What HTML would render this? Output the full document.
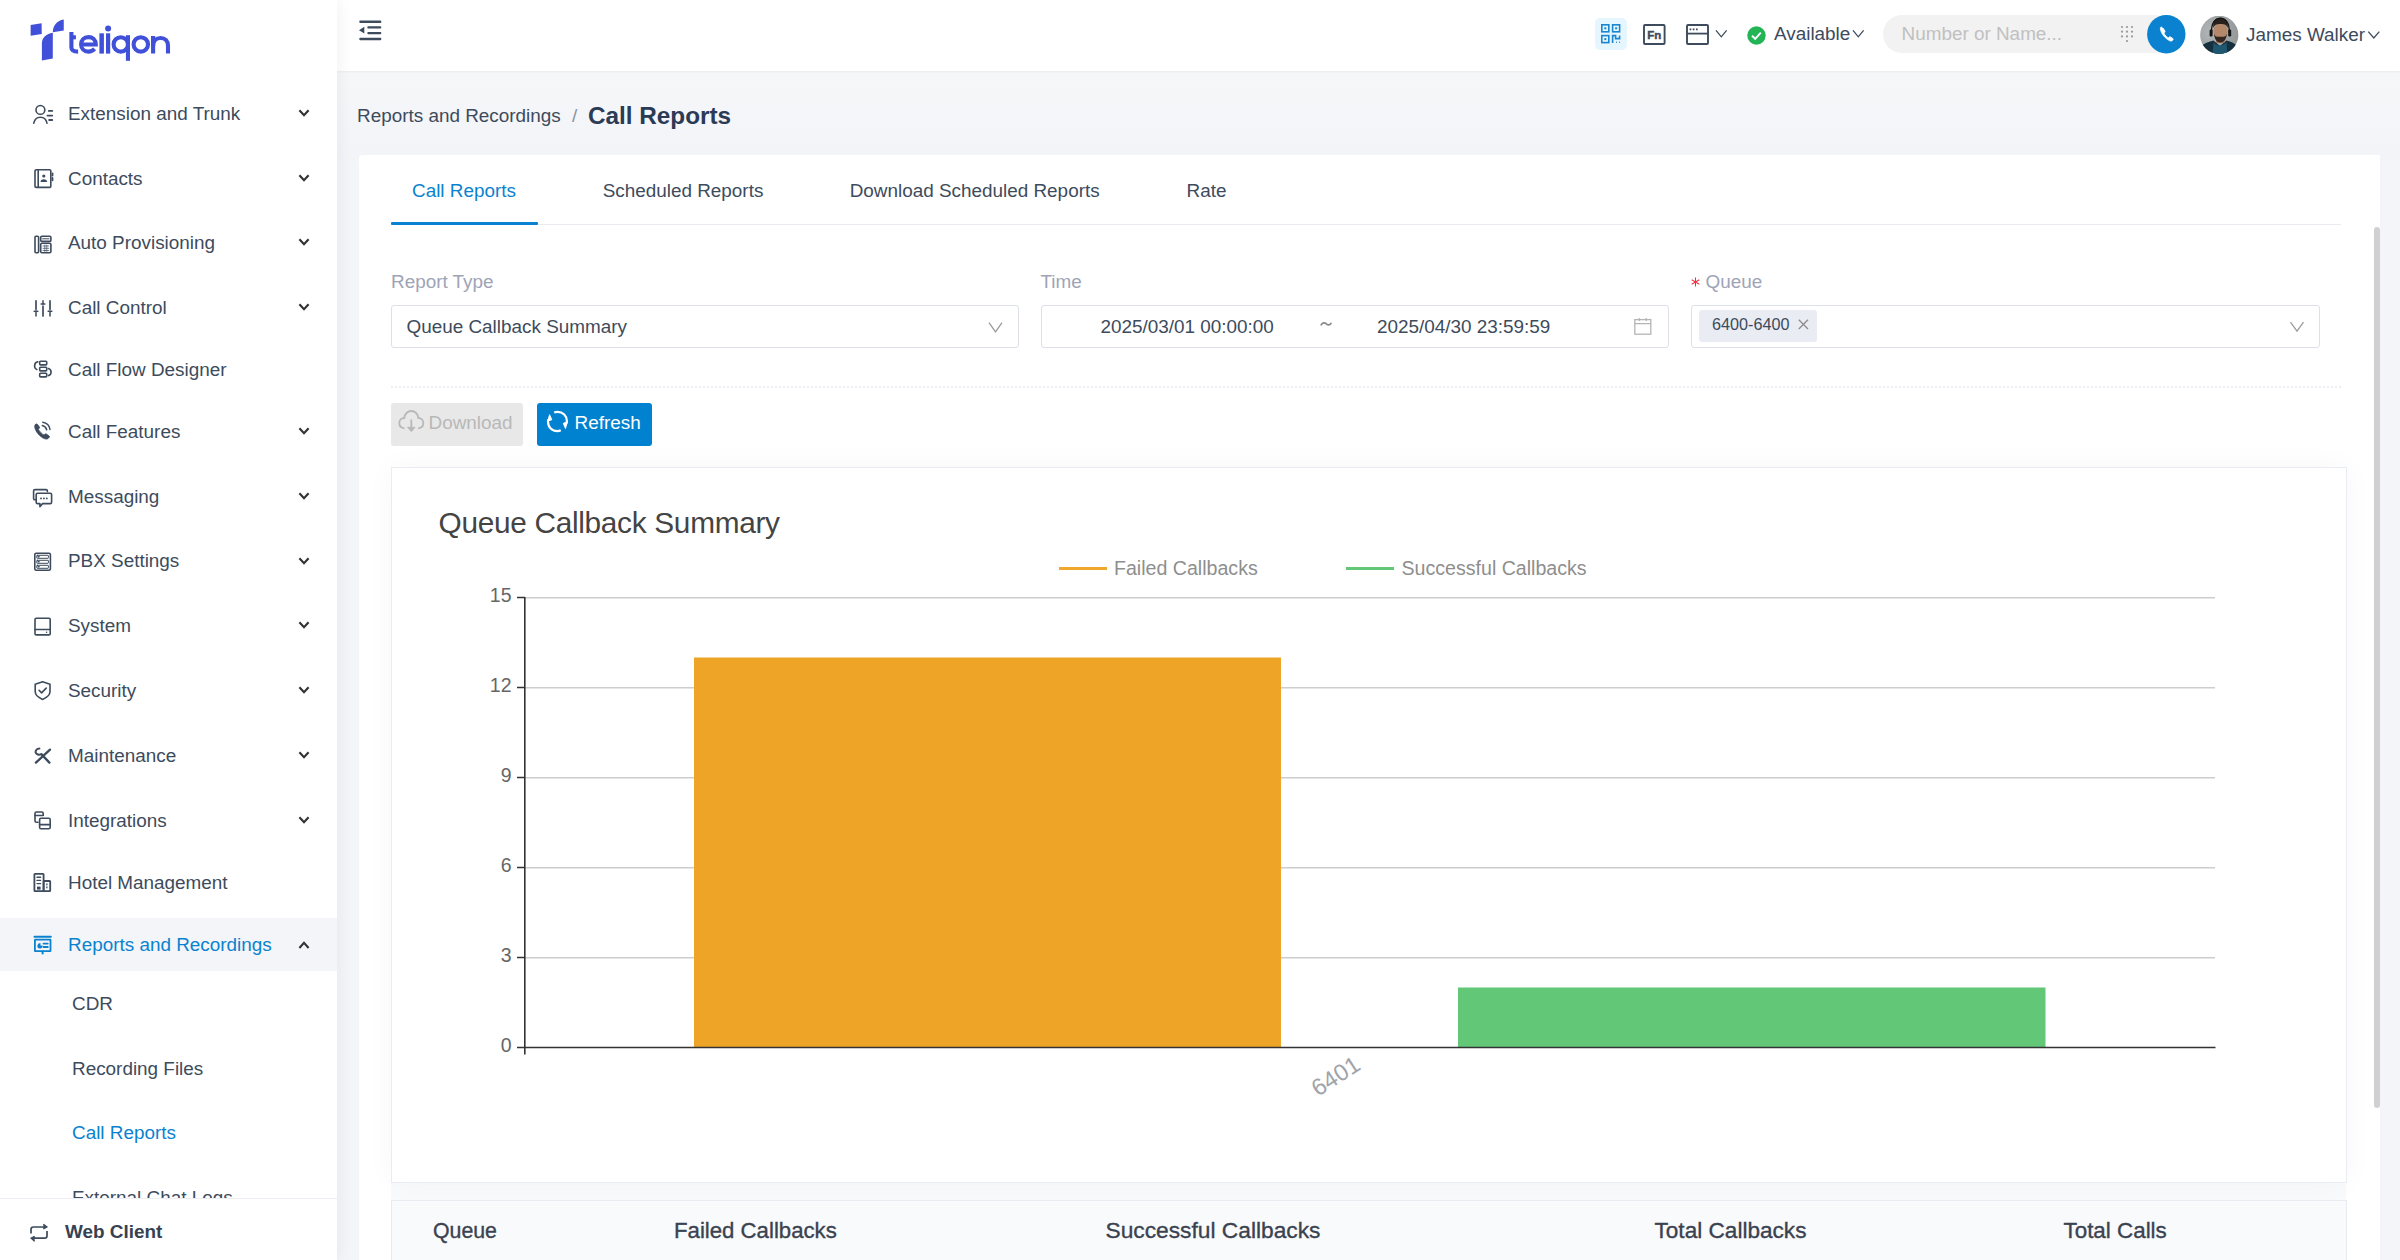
<!DOCTYPE html>
<html><head><meta charset="utf-8"><title>Call Reports</title>
<style>
*{box-sizing:border-box;margin:0;padding:0}
html,body{width:2400px;height:1260px;overflow:hidden;background:#f4f5f8;font-family:"Liberation Sans",sans-serif}
.t{position:absolute;white-space:nowrap}
.a{position:absolute}
svg{position:absolute;overflow:visible}
</style></head><body>
<div class="a" style="left:0;top:0;width:337px;height:1260px;background:#fff;box-shadow:2px 0 14px rgba(30,40,70,0.06);z-index:2">
<svg style="left:0;top:0" width="200" height="70" viewBox="0 0 200 70">
<g fill="#4050d8">
<path d="M30.6,25.1 L41.6,23.25 L41.75,33.9 L30.6,35.75 Z"/>
<path d="M52.8,32.2 C52.8,25.5 57.2,20.5 63.75,19.5 L63.75,30.4 Z"/>
<path d="M41.9,60.4 L41.9,43.3 C41.9,37.5 46.5,33.4 52.8,32.7 L52.8,58.6 Z"/>
<rect x="99.4" y="33.3" width="4.5" height="20.3"/>
<rect x="106" y="33.3" width="4.2" height="20.3"/>
<circle cx="108.1" cy="28.4" r="3"/>
<rect x="125.9" y="35.2" width="4.1" height="25.6"/>
<rect x="151" y="36" width="4.2" height="10"/>
</g>
<g fill="none" stroke="#4050d8" stroke-width="4.1">
<path d="M71.4,32 L71.4,47.5 C71.4,50.5 73.5,51.6 78.1,51.6"/>
<path d="M71.4,37.3 L75.9,37.3"/>
<path d="M81.1,44.5 L95.8,44.5 C95.8,39.8 92.5,37.1 88.4,37.1 C84,37.1 81.1,40.3 81.1,44.5 C81.1,48.7 84.2,51.6 88.4,51.6 C91,51.6 93,50.5 94.6,48.8"/>
<circle cx="120.8" cy="44.4" r="7.2"/>
<circle cx="140.8" cy="44.4" r="7.2"/>
<path d="M153.1,53.6 L153.1,45.8 C153.1,40.8 156.3,38 160.6,38 C164.9,38 168,40.8 168,45.8 L168,53.6"/>
</g>
</svg>
<svg style="left:32px;top:104px" width="20" height="20" viewBox="0 0 20 20" fill="none" stroke="#3d4b5c" stroke-width="1.6" stroke-linecap="round" stroke-linejoin="round"><circle cx="8.4" cy="5.9" r="4.4"/><path d="M1.8,19.2 C2.5,15.6 5,13.3 8.4,13.3 C11.8,13.3 14.3,15.6 15,19.2"/><path d="M16.8,6.9 H20.2 M15.5,11.6 H20.2 M17.2,16 H20.2" stroke-width="1.9"/></svg>
<div class="t" style="left:68px;top:105px;font-size:18.9px;line-height:18.9px;color:#3d4b5c;font-weight:normal;">Extension and Trunk</div>
<svg style="left:297px;top:107px" width="14" height="12" viewBox="0 0 14 12"><path d="M2.4,3.2 L7,8.3 L11.6,3.2" fill="none" stroke="#333" stroke-width="2.1"/></svg>
<svg style="left:32px;top:168px" width="20" height="20" viewBox="0 0 20 20" fill="none" stroke="#3d4b5c" stroke-width="1.6" stroke-linecap="round" stroke-linejoin="round"><rect x="3" y="1.8" width="15.8" height="17.6" rx="1.2"/><path d="M6.2,2 V19.2"/><circle cx="11.8" cy="8" r="1.6" fill="#3d4b5c" stroke="none"/><path d="M9.3,13.3 C9.9,11.6 13.7,11.6 14.3,13.3 Z" fill="#3d4b5c"/><path d="M20.5,5.3 V7.5 M20.5,10 V12.3" stroke-width="1.8"/></svg>
<div class="t" style="left:68px;top:170px;font-size:18.9px;line-height:18.9px;color:#3d4b5c;font-weight:normal;">Contacts</div>
<svg style="left:297px;top:172px" width="14" height="12" viewBox="0 0 14 12"><path d="M2.4,3.2 L7,8.3 L11.6,3.2" fill="none" stroke="#333" stroke-width="2.1"/></svg>
<svg style="left:32px;top:233.5px" width="20" height="20" viewBox="0 0 20 20" fill="none" stroke="#3d4b5c" stroke-width="1.6" stroke-linecap="round" stroke-linejoin="round"><rect x="3" y="2.2" width="3.6" height="16.6" rx="1"/><rect x="8.7" y="2.2" width="10.2" height="5.2" rx="1.2"/><rect x="8.7" y="9.2" width="10.2" height="9.6" rx="1.2"/><path d="M10.6,4.8 H17" stroke-width="1"/><path d="M11,12 H16.8 M11,14.3 H16.8 M11,16.5 H16.8 M12.8,11 V17.5 M14.8,11 V17.5" stroke-width="0.7"/></svg>
<div class="t" style="left:68px;top:234px;font-size:18.9px;line-height:18.9px;color:#3d4b5c;font-weight:normal;">Auto Provisioning</div>
<svg style="left:297px;top:236px" width="14" height="12" viewBox="0 0 14 12"><path d="M2.4,3.2 L7,8.3 L11.6,3.2" fill="none" stroke="#333" stroke-width="2.1"/></svg>
<svg style="left:32px;top:297px" width="20" height="20" viewBox="0 0 20 20" fill="none" stroke="#3d4b5c" stroke-width="1.6" stroke-linecap="round" stroke-linejoin="round"><path d="M4,3.8 V12.2 M11,9.2 V19 M18,3.8 V12.2" stroke-width="1.7"/><path d="M2.2,14.3 H5.8 M9.2,7 H12.8 M16.2,14.3 H19.8" stroke-width="1.6"/><path d="M4,14.3 V19 M11,3.8 V7 M18,14.3 V19" stroke-width="1.5"/></svg>
<div class="t" style="left:68px;top:299px;font-size:18.9px;line-height:18.9px;color:#3d4b5c;font-weight:normal;">Call Control</div>
<svg style="left:297px;top:301px" width="14" height="12" viewBox="0 0 14 12"><path d="M2.4,3.2 L7,8.3 L11.6,3.2" fill="none" stroke="#333" stroke-width="2.1"/></svg>
<svg style="left:32px;top:359px" width="20" height="20" viewBox="0 0 20 20" fill="none" stroke="#3d4b5c" stroke-width="1.6" stroke-linecap="round" stroke-linejoin="round"><rect x="7.7" y="2.3" width="7" height="3.6" rx="0.8"/><rect x="7.7" y="8.3" width="7" height="3.6" rx="0.8"/><rect x="7.7" y="14.3" width="7" height="3.6" rx="0.8"/><path d="M5.8,2.8 C2,3.5 1.5,9 4.8,10.4" stroke-width="1.6"/><path d="M16.5,9.6 C20,10.8 19.8,15.6 16.5,16.6" stroke-width="1.6"/></svg>
<div class="t" style="left:68px;top:361px;font-size:18.9px;line-height:18.9px;color:#3d4b5c;font-weight:normal;">Call Flow Designer</div>
<svg style="left:32px;top:421px" width="20" height="20" viewBox="0 0 20 20" fill="none" stroke="#3d4b5c" stroke-width="1.6" stroke-linecap="round" stroke-linejoin="round"><path d="M3.6,3.2 C2.8,4 2.5,5.2 2.8,6.5 C3.6,10.6 7.5,15.4 12.2,17.6 C13.8,18.3 15.4,18.2 16.4,17.2 L17.3,16.2 C17.6,15.8 17.5,15.3 17.1,15 L14.3,13 C13.9,12.7 13.4,12.8 13.1,13.1 L12.1,14.1 C10.2,13.2 7.3,10.3 6.3,8.2 L7.3,7.2 C7.6,6.9 7.7,6.4 7.4,6 L5.4,3.3 C5.1,2.9 4.5,2.8 4.1,3.1 Z" fill="#3d4b5c" stroke-width="0.8"/><path d="M10.3,4.4 C12.6,4.9 14.2,6.6 14.7,8.8 M10.8,1.2 C14.5,1.8 17.4,4.7 18,8.4" stroke-width="1.5"/></svg>
<div class="t" style="left:68px;top:423px;font-size:18.9px;line-height:18.9px;color:#3d4b5c;font-weight:normal;">Call Features</div>
<svg style="left:297px;top:425px" width="14" height="12" viewBox="0 0 14 12"><path d="M2.4,3.2 L7,8.3 L11.6,3.2" fill="none" stroke="#333" stroke-width="2.1"/></svg>
<svg style="left:32px;top:488px" width="20" height="20" viewBox="0 0 20 20" fill="none" stroke="#3d4b5c" stroke-width="1.6" stroke-linecap="round" stroke-linejoin="round"><path d="M15.4,3.6 V3 C15.4,2.2 14.8,1.6 14,1.6 H3 C2.2,1.6 1.6,2.2 1.6,3 V10.4 C1.6,11.2 2.2,11.8 3,11.8 H3.8"/><path d="M5.6,5.2 H18.2 C19,5.2 19.6,5.8 19.6,6.6 V14.2 C19.6,15 19,15.6 18.2,15.6 H10.6 L7.9,18.6 V15.6 H5.6 C4.8,15.6 4.2,15 4.2,14.2 V6.6 C4.2,5.8 4.8,5.2 5.6,5.2 Z"/><circle cx="9" cy="10.4" r="0.95" fill="#3d4b5c" stroke="none"/><circle cx="11.9" cy="10.4" r="0.95" fill="#3d4b5c" stroke="none"/><circle cx="14.8" cy="10.4" r="0.95" fill="#3d4b5c" stroke="none"/></svg>
<div class="t" style="left:68px;top:488px;font-size:18.9px;line-height:18.9px;color:#3d4b5c;font-weight:normal;">Messaging</div>
<svg style="left:297px;top:490px" width="14" height="12" viewBox="0 0 14 12"><path d="M2.4,3.2 L7,8.3 L11.6,3.2" fill="none" stroke="#333" stroke-width="2.1"/></svg>
<svg style="left:32px;top:551.0px" width="20" height="20" viewBox="0 0 20 20" fill="none" stroke="#3d4b5c" stroke-width="1.6" stroke-linecap="round" stroke-linejoin="round"><rect x="2.8" y="2.2" width="15.6" height="17" rx="1.4"/><rect x="4.8" y="4.3" width="11.6" height="3" rx="0.5" stroke-width="1"/><rect x="4.8" y="9.3" width="11.6" height="3" rx="0.5" stroke-width="1"/><rect x="4.8" y="14.3" width="11.6" height="3" rx="0.5" stroke-width="1"/><path d="M6.3,5.8 H7 M6.3,10.8 H7 M6.3,15.8 H7" stroke-width="1.6"/></svg>
<div class="t" style="left:68px;top:552px;font-size:18.9px;line-height:18.9px;color:#3d4b5c;font-weight:normal;">PBX Settings</div>
<svg style="left:297px;top:554.5px" width="14" height="12" viewBox="0 0 14 12"><path d="M2.4,3.2 L7,8.3 L11.6,3.2" fill="none" stroke="#333" stroke-width="2.1"/></svg>
<svg style="left:32px;top:616.2px" width="20" height="20" viewBox="0 0 20 20" fill="none" stroke="#3d4b5c" stroke-width="1.6" stroke-linecap="round" stroke-linejoin="round"><rect x="3" y="2.3" width="15.2" height="16.6" rx="1.2"/><path d="M3,13.5 H18.2"/><circle cx="14.6" cy="16.2" r="0.8" fill="#3d4b5c" stroke="none"/></svg>
<div class="t" style="left:68px;top:617px;font-size:18.9px;line-height:18.9px;color:#3d4b5c;font-weight:normal;">System</div>
<svg style="left:297px;top:619px" width="14" height="12" viewBox="0 0 14 12"><path d="M2.4,3.2 L7,8.3 L11.6,3.2" fill="none" stroke="#333" stroke-width="2.1"/></svg>
<svg style="left:32px;top:680px" width="20" height="20" viewBox="0 0 20 20" fill="none" stroke="#3d4b5c" stroke-width="1.6" stroke-linecap="round" stroke-linejoin="round"><path d="M10.6,1.8 L18,4.2 V11.6 C18,14.8 14.5,17.8 10.6,19.4 C6.7,17.8 3.2,14.8 3.2,11.6 V4.2 Z"/><path d="M7.1,10.3 L9.6,12.9 L14.2,8.1"/></svg>
<div class="t" style="left:68px;top:682px;font-size:18.9px;line-height:18.9px;color:#3d4b5c;font-weight:normal;">Security</div>
<svg style="left:297px;top:684px" width="14" height="12" viewBox="0 0 14 12"><path d="M2.4,3.2 L7,8.3 L11.6,3.2" fill="none" stroke="#333" stroke-width="2.1"/></svg>
<svg style="left:32px;top:745px" width="20" height="20" viewBox="0 0 20 20" fill="none" stroke="#3d4b5c" stroke-width="1.6" stroke-linecap="round" stroke-linejoin="round"><path d="M18,4.6 L3.9,17.6" stroke-width="2.3"/><path d="M17.4,17.6 L9.6,9.4" stroke-width="2.3"/><path d="M7.4,3.6 C4.6,3.6 3.4,5.6 3.6,7.4 C4.4,9.6 7,10.2 9.4,9.2" stroke-width="2"/></svg>
<div class="t" style="left:68px;top:747px;font-size:18.9px;line-height:18.9px;color:#3d4b5c;font-weight:normal;">Maintenance</div>
<svg style="left:297px;top:749px" width="14" height="12" viewBox="0 0 14 12"><path d="M2.4,3.2 L7,8.3 L11.6,3.2" fill="none" stroke="#333" stroke-width="2.1"/></svg>
<svg style="left:32px;top:810px" width="20" height="20" viewBox="0 0 20 20" fill="none" stroke="#3d4b5c" stroke-width="1.6" stroke-linecap="round" stroke-linejoin="round"><path d="M11.2,5.2 V3.4 C11.2,2.6 10.6,2 9.8,2 H4.4 C3.6,2 3,2.6 3,3.4 V10.8 C3,11.6 3.6,12.2 4.4,12.2 H6" /><path d="M3,5.5 H11.2"/><rect x="7.6" y="8.3" width="10.6" height="10.4" rx="1.4"/><path d="M7.6,14.6 H18.2"/></svg>
<div class="t" style="left:68px;top:812px;font-size:18.9px;line-height:18.9px;color:#3d4b5c;font-weight:normal;">Integrations</div>
<svg style="left:297px;top:814px" width="14" height="12" viewBox="0 0 14 12"><path d="M2.4,3.2 L7,8.3 L11.6,3.2" fill="none" stroke="#333" stroke-width="2.1"/></svg>
<svg style="left:32px;top:872px" width="20" height="20" viewBox="0 0 20 20" fill="none" stroke="#3d4b5c" stroke-width="1.6" stroke-linecap="round" stroke-linejoin="round"><rect x="2.4" y="1.8" width="9.2" height="17.4" rx="0.6" stroke-width="1.8"/><rect x="11.6" y="9" width="6.6" height="10.2" rx="0.6" stroke-width="1.8"/><path d="M5,5.2 H8.6 M5,8.4 H8.6 M5,11.6 H8.6" stroke-width="1.4"/><rect x="5" y="14.6" width="3.6" height="3" fill="#3d4b5c" stroke="none"/><path d="M14.9,12 V12.8 M14.9,15 V15.8" stroke-width="1.3"/></svg>
<div class="t" style="left:68px;top:874px;font-size:18.9px;line-height:18.9px;color:#3d4b5c;font-weight:normal;">Hotel Management</div>
<div class="a" style="left:0;top:918px;width:337px;height:53px;background:#f4f5f8"></div>
<svg style="left:32px;top:934px" width="20" height="20" viewBox="0 0 20 20" fill="none" stroke="#0a82cf" stroke-width="1.6" stroke-linecap="round" stroke-linejoin="round"><path d="M2.5,2.8 H18.8" stroke-width="2"/><rect x="2.9" y="5.6" width="15.6" height="11.6" rx="0.4" stroke-width="1.8"/><path d="M10.6,17.4 V19.4" stroke-width="2"/><path d="M8.6,9.3 A2.6,2.6 0 1 0 10.6,11.6 L8.4,11.6 Z" fill="#0a82cf" stroke="none"/><path d="M11.5,9.6 H15.8 M11.5,13 H15.8" stroke-width="1.8"/></svg>
<div class="t" style="left:68px;top:936px;font-size:18.9px;line-height:18.9px;color:#0a82cf;font-weight:normal;">Reports and Recordings</div>
<svg style="left:297px;top:938px" width="14" height="12" viewBox="0 0 14 12"><path d="M2.4,10 L7,4.8 L11.6,10" fill="none" stroke="#333" stroke-width="2.1"/></svg>
<div class="t" style="left:72px;top:995px;font-size:18.9px;line-height:18.9px;color:#3d4b5c;font-weight:normal;">CDR</div>
<div class="t" style="left:72px;top:1060px;font-size:18.9px;line-height:18.9px;color:#3d4b5c;font-weight:normal;">Recording Files</div>
<div class="t" style="left:72px;top:1124px;font-size:18.9px;line-height:18.9px;color:#0a82cf;font-weight:normal;">Call Reports</div>
<div class="t" style="left:72px;top:1189px;font-size:18.9px;line-height:18.9px;color:#3d4b5c;font-weight:normal;">External Chat Logs</div>
<div class="a" style="left:0;top:1198px;width:337px;height:62px;background:#fff;border-top:1px solid #eceef3"></div>
<svg style="left:29px;top:1223px" width="20" height="20" viewBox="0 0 20 20" fill="none" stroke="#3d4b5c" stroke-width="1.7"><path d="M2,10.5 V6.4 C2,5 3,4 4.4,4 H17"/><path d="M18,8 V12.8 C18,14.2 17,15.2 15.6,15.2 H3"/><path d="M14.4,1.2 L18,4 L14.4,6" fill="#3d4b5c" stroke-width="1.2"/><path d="M5.6,13.2 L2,15.2 L5.6,18.4" fill="#3d4b5c" stroke-width="1.2"/></svg>
<div class="t" style="left:65px;top:1223px;font-size:18.9px;line-height:18.9px;color:#364252;font-weight:bold;">Web Client</div>
</div>
<div class="a" style="left:337px;top:71px;width:2063px;height:90px;background:linear-gradient(#f6f7f9,#f3f4f8)"></div>
<div class="a" style="left:337px;top:0;width:2063px;height:71px;background:#fff;box-shadow:0 1px 2px rgba(0,0,0,0.05)"></div>
<svg style="left:357px;top:18px" width="26" height="24" viewBox="0 0 26 24"><g fill="#3d4b5c"><rect x="2.3" y="2.6" width="22" height="2.4" rx="1"/><rect x="10.3" y="8.3" width="14" height="2.2" rx="1"/><rect x="10.3" y="14" width="14" height="2.2" rx="1"/><rect x="2.3" y="19.8" width="22" height="2.4" rx="1"/><path d="M2,12.2 L7.3,8.8 V15.6 Z"/></g></svg>
<div class="a" style="left:1595px;top:17.5px;width:32px;height:32px;border-radius:5px;background:#e5f6fe"></div>
<svg style="left:1601px;top:23.5px" width="20" height="20" viewBox="0 0 20 20" fill="none" stroke="#1a86d0" stroke-width="1.6"><rect x="0.8" y="0.8" width="7" height="7"/><rect x="11.6" y="0.8" width="7" height="7"/><rect x="0.8" y="11.6" width="7" height="7"/><rect x="3.3" y="3.3" width="2" height="2" fill="#1a86d0" stroke="none"/><rect x="14.1" y="3.3" width="2" height="2" fill="#1a86d0" stroke="none"/><rect x="3.3" y="14.1" width="2" height="2" fill="#1a86d0" stroke="none"/><path d="M11.6,19 V11.6 H14.6 V14.6 H18.6 V11.6"/><path d="M15,18.2 H15.8 M18,18.2 H18.8" stroke-width="1.6"/></svg>
<svg style="left:1643px;top:24px" width="23" height="21" viewBox="0 0 23 21"><rect x="1" y="1" width="20.6" height="19" rx="1" fill="none" stroke="#3d4b5c" stroke-width="1.9"/><text x="11.2" y="14.6" text-anchor="middle" style="font-family:'Liberation Sans';font-weight:bold;font-size:11.5px" fill="#3d4b5c" stroke="#3d4b5c" stroke-width="0.45">Fn</text></svg>
<svg style="left:1686px;top:24px" width="24" height="21" viewBox="0 0 24 21"><rect x="1" y="1" width="21" height="19" rx="1" fill="none" stroke="#3d4b5c" stroke-width="1.9"/><path d="M1,9.6 H22" stroke="#3d4b5c" stroke-width="1.8"/><path d="M3.6,5.4 H5.3 M6.8,5.4 H8.5 M10,5.4 H11.7" stroke="#3d4b5c" stroke-width="1.7"/></svg>
<svg style="left:1715px;top:29px" width="13" height="10" viewBox="0 0 13 10"><path d="M1,1.3 L6.3,7.8 L11.6,1.3" fill="none" stroke="#3d4b5c" stroke-width="1.3"/></svg>
<svg style="left:1747px;top:26px" width="19" height="19" viewBox="0 0 19 19"><circle cx="9.5" cy="9.5" r="9.2" fill="#22b455"/><path d="M5,9.8 L8.2,12.8 L13.8,6.6" fill="none" stroke="#fff" stroke-width="1.9"/></svg>
<div class="t" style="left:1774px;top:25px;font-size:18.9px;line-height:18.9px;color:#3d4b5c;font-weight:normal;">Available</div>
<svg style="left:1852px;top:29px" width="13" height="10" viewBox="0 0 13 10"><path d="M1,1.3 L6.3,7.8 L11.6,1.3" fill="none" stroke="#3d4b5c" stroke-width="1.3"/></svg>
<div class="a" style="left:1883px;top:15px;width:290px;height:38px;border-radius:19px;background:#f2f2f2"></div>
<div class="t" style="left:1901.5px;top:25px;font-size:18.9px;line-height:18.9px;color:#c0c0c0;font-weight:normal;">Number or Name...</div>
<svg style="left:2120px;top:24.5px" width="16" height="19" viewBox="0 0 16 19"><g fill="#9a9a9a"><circle cx="2" cy="2.0" r="1.1"/><circle cx="2" cy="6.7" r="1.1"/><circle cx="2" cy="11.4" r="1.1"/><circle cx="7" cy="2.0" r="1.1"/><circle cx="7" cy="6.7" r="1.1"/><circle cx="7" cy="11.4" r="1.1"/><circle cx="12" cy="2.0" r="1.1"/><circle cx="12" cy="6.7" r="1.1"/><circle cx="12" cy="11.4" r="1.1"/><circle cx="7" cy="16.1" r="1.1"/></g></svg>
<svg style="left:2147px;top:15px" width="39" height="39" viewBox="0 0 39 39"><circle cx="19.3" cy="19.2" r="19.2" fill="#0a82d0"/><path d="M14.3,11.8 C13.6,12.3 13.2,13.2 13.4,14.2 C14.2,18.4 17.8,23.3 22.8,25.8 C23.8,26.3 24.9,26.1 25.5,25.4 L26,24.7 C26.3,24.3 26.2,23.8 25.8,23.5 L23.4,21.9 C23,21.7 22.5,21.7 22.2,22.1 L21.4,23 C19.6,22 17.6,19.8 16.9,18.1 L17.8,17.2 C18.1,16.9 18.2,16.4 17.9,16 L16.4,13.5 C16.1,13.1 15.6,12.9 15.2,13.2 Z" fill="#fff" stroke="#fff" stroke-width="0.8"/></svg>
<svg style="left:2200px;top:16px" width="39" height="39" viewBox="0 0 39 39">
<defs><clipPath id="av"><circle cx="19.25" cy="18.9" r="19.1"/></clipPath><radialGradient id="avbg" cx="0.3" cy="0.4" r="0.8"><stop offset="0" stop-color="#b3b7b8"/><stop offset="1" stop-color="#8f9394"/></radialGradient></defs>
<g clip-path="url(#av)">
<rect width="39" height="39" fill="url(#avbg)"/>
<path d="M0,39 L0,31 C4,27 9,25.5 13.5,24.5 L20,30 L26.5,24.5 C31,25.5 35,27.5 39,31 L39,39 Z" fill="#16303e"/>
<path d="M13.5,26 C15.5,30.5 24,30.5 26.5,26 L27.5,39 L12.5,39 Z" fill="#1f5670"/>
<rect x="16" y="20" width="8.5" height="7" fill="#9c6e55"/>
<ellipse cx="20.4" cy="15.2" rx="6.9" ry="8.8" fill="#b5876b"/>
<path d="M13.3,12 C12.6,5 15.5,1.6 20.4,1.6 C25.4,1.6 28.4,5 27.8,12 C26.4,8.6 24,7.8 20.4,8 C17,7.8 14.6,8.6 13.3,12 Z" fill="#2a211c"/>
<path d="M13.8,17.2 C14.5,24 17.5,26.4 20.4,26.4 C23.4,26.4 26.4,24 27.1,17.2 C26,21.3 23.4,20.6 20.4,20.8 C17.4,20.6 15,21.3 13.8,17.2 Z" fill="#33271f"/>
<path d="M11.6,17 C11,7 15,2.4 20.4,2.4 C25.8,2.4 29.8,7 29.2,17" fill="none" stroke="#151515" stroke-width="1.3"/>
<rect x="9.6" y="13.5" width="3" height="7" rx="1.2" fill="#151515"/><rect x="28.2" y="13.5" width="3" height="7" rx="1.2" fill="#151515"/>
</g></svg>
<div class="t" style="left:2246px;top:26px;font-size:18.9px;line-height:18.9px;color:#3d4b5c;font-weight:normal;">James Walker</div>
<svg style="left:2366.5px;top:30px" width="14" height="10" viewBox="0 0 14 10"><path d="M1.3,1.6 L6.8,8 L12.3,1.6" fill="none" stroke="#3d4b5c" stroke-width="1.3"/></svg>
<div class="t" style="left:357px;top:107px;font-size:18.9px;line-height:18.9px;color:#3d4b5c;font-weight:normal;">Reports and Recordings</div>
<div class="t" style="left:572px;top:107px;font-size:18.9px;line-height:18.9px;color:#8a93a0;font-weight:normal;">/</div>
<div class="t" style="left:588px;top:104px;font-size:24.3px;line-height:24.3px;color:#2b3a55;font-weight:bold;">Call Reports</div>
<div class="a" style="left:359px;top:155px;width:2021px;height:1120px;background:#fff;border-radius:4px 0 0 0"></div>
<div class="a" style="left:391px;top:224px;width:1950px;height:1px;background:#e9ebf1"></div>
<div class="a" style="left:391px;top:222px;width:147px;height:3px;background:#0a82cf;border-radius:1px"></div>
<div class="t" style="left:412px;top:182px;font-size:18.9px;line-height:18.9px;color:#0a82cf;font-weight:normal;">Call Reports</div>
<div class="t" style="left:602.7px;top:182px;font-size:18.9px;line-height:18.9px;color:#3d4b5c;font-weight:normal;">Scheduled Reports</div>
<div class="t" style="left:849.7px;top:182px;font-size:18.9px;line-height:18.9px;color:#3d4b5c;font-weight:normal;">Download Scheduled Reports</div>
<div class="t" style="left:1186.5px;top:182px;font-size:18.9px;line-height:18.9px;color:#3d4b5c;font-weight:normal;">Rate</div>
<div class="t" style="left:391px;top:273px;font-size:18.9px;line-height:18.9px;color:#9ea4b6;font-weight:normal;">Report Type</div>
<div class="t" style="left:1040.5px;top:273px;font-size:18.9px;line-height:18.9px;color:#9ea4b6;font-weight:normal;">Time</div>
<svg style="left:1690px;top:276px" width="11" height="12" viewBox="0 0 11 12"><path d="M5.5,1.6 V10.4 M1.7,3.8 L9.3,8.2 M9.3,3.8 L1.7,8.2" stroke="#f0303c" stroke-width="1.05"/></svg>
<div class="t" style="left:1705.5px;top:273px;font-size:18.9px;line-height:18.9px;color:#9ea4b6;font-weight:normal;">Queue</div>
<div class="a" style="left:391px;top:305.3px;width:628px;height:42.4px;border:1.3px solid #dde0e9;border-radius:3px;background:#fff"></div>
<div class="a" style="left:1041px;top:305.3px;width:628px;height:42.4px;border:1.3px solid #dde0e9;border-radius:3px;background:#fff"></div>
<div class="a" style="left:1691px;top:305.3px;width:629px;height:42.4px;border:1.3px solid #dde0e9;border-radius:3px;background:#fff"></div>
<div class="t" style="left:406.5px;top:318px;font-size:18.9px;line-height:18.9px;color:#3d4b5c;font-weight:normal;">Queue Callback Summary</div>
<svg style="left:987px;top:320px" width="17" height="14" viewBox="0 0 17 14"><path d="M2,2.7 L8.5,11.8 L15,2.7" fill="none" stroke="#9b9b9b" stroke-width="1.3"/></svg>
<div class="t" style="left:1100.5px;top:318px;font-size:18.9px;line-height:18.9px;color:#3d4b5c;font-weight:normal;">2025/03/01 00:00:00</div>
<svg style="left:0;top:0" width="2400" height="400"><path d="M1321.2,324.8 C1322.6,322.6 1324.8,322.4 1326.3,323.8 C1327.7,325.1 1329.8,325.7 1330.9,323.3" fill="none" stroke="#8a8a8a" stroke-width="1.7" stroke-linecap="round"/></svg>
<div class="t" style="left:1377px;top:318px;font-size:18.9px;line-height:18.9px;color:#3d4b5c;font-weight:normal;">2025/04/30 23:59:59</div>
<svg style="left:1633px;top:317px" width="20" height="19" viewBox="0 0 20 19" fill="none" stroke="#b5b5b5" stroke-width="1.3"><rect x="1.8" y="2.6" width="16" height="14.6"/><path d="M1.8,6.6 H17.8 M6.4,1 V4 M13.2,1 V4"/></svg>
<div class="a" style="left:1698.5px;top:310px;width:118.5px;height:31.5px;border-radius:3px;background:#e9ecf3"></div>
<div class="t" style="left:1712px;top:316px;font-size:16.2px;line-height:16.2px;color:#3d4b5c;font-weight:normal;">6400-6400</div>
<svg style="left:1797px;top:318px" width="13" height="13" viewBox="0 0 13 13"><path d="M1.8,1.8 L11,11 M11,1.8 L1.8,11" stroke="#8c8c8c" stroke-width="1.3"/></svg>
<svg style="left:2288px;top:320px" width="17" height="14" viewBox="0 0 17 14"><path d="M2.5,2.2 L9,11.2 L15.5,2.2" fill="none" stroke="#9b9b9b" stroke-width="1.3"/></svg>
<div class="a" style="left:391px;top:386px;width:1951px;height:2px;background:repeating-linear-gradient(90deg,#eceef3 0 2px,transparent 2px 4px)"></div>
<div class="a" style="left:391px;top:403px;width:132px;height:43px;border-radius:3px;background:#e8e8e8"></div>
<svg style="left:397px;top:409px" width="30" height="26" viewBox="0 0 30 26" fill="none" stroke="#b9b9b9" stroke-width="1.8"><path d="M7.5,19.3 C4,19 2.3,16.5 2.3,14 C2.3,11.2 4.5,9 7.3,9 C7.6,5 10.5,2 14.3,2 C18.1,2 21,5 21.3,9 C24.1,9 26.3,11.2 26.3,14 C26.3,16.5 24.6,19 21.1,19.3"/><path d="M14.3,10.5 V21.5"/><path d="M10.6,18.3 L14.3,22.6 L18,18.3 Z" fill="#b9b9b9" stroke-width="1"/></svg>
<div class="t" style="left:428.5px;top:414px;font-size:18.9px;line-height:18.9px;color:#b8b8b8;font-weight:normal;">Download</div>
<div class="a" style="left:537px;top:403px;width:115px;height:43px;border-radius:3px;background:#0082d0"></div>
<svg style="left:545px;top:409px" width="26" height="26" viewBox="0 0 26 26" fill="none" stroke="#fff" stroke-width="2.2"><path d="M9.2,3.6 C10.4,3 11.4,2.8 12.5,2.8 C18,2.8 21.9,6.8 21.9,12 C21.9,13.1 21.6,14 21.3,14.8"/><path d="M15.8,21.3 C14.7,21.9 13.6,22.2 12.5,22.2 C7,22.2 3,18.2 3,12.5 C3,11.8 3.2,11 3.4,10.3"/><path d="M4.6,5.7 L2.8,12 L6.8,10.8 Z" fill="#fff" stroke-width="1"/><path d="M20.5,19.5 L22.2,13 L18.3,14.3 Z" fill="#fff" stroke-width="1"/></svg>
<div class="t" style="left:574.5px;top:414px;font-size:18.9px;line-height:18.9px;color:#ffffff;font-weight:normal;">Refresh</div>
<div class="a" style="left:391px;top:1182px;width:1955px;height:30px;background:#f9fafb"></div>
<div class="a" style="left:391px;top:467px;width:1956px;height:716px;background:#fff;border:1.3px solid #e9ecf2;box-shadow:0 0 28px rgba(20,30,60,0.035)"></div>
<div class="t" style="left:438.5px;top:508px;font-size:29.8px;line-height:29.8px;color:#444444;font-weight:normal;letter-spacing:-0.3px">Queue Callback Summary</div>
<div class="a" style="left:1058.5px;top:567.2px;width:48px;height:3.3px;background:#efa72c"></div>
<div class="t" style="left:1114px;top:559px;font-size:19.6px;line-height:19.6px;color:#8e8e8e;font-weight:normal;">Failed Callbacks</div>
<div class="a" style="left:1345.5px;top:567.2px;width:48px;height:3.3px;background:#62c878"></div>
<div class="t" style="left:1401.5px;top:559px;font-size:19.6px;line-height:19.6px;color:#8e8e8e;font-weight:normal;">Successful Callbacks</div>
<svg style="left:0;top:0" width="2400" height="1260" viewBox="0 0 2400 1260"><path d="M525,597.8 H2215" stroke="#cdcdcd" stroke-width="1.6"/><path d="M525,687.8 H2215" stroke="#cdcdcd" stroke-width="1.6"/><path d="M525,777.8 H2215" stroke="#cdcdcd" stroke-width="1.6"/><path d="M525,867.8 H2215" stroke="#cdcdcd" stroke-width="1.6"/><path d="M525,957.8 H2215" stroke="#cdcdcd" stroke-width="1.6"/><rect x="694" y="657.5" width="587" height="390" fill="#eea527"/><rect x="1458" y="987.5" width="587.5" height="60" fill="#62c878"/><path d="M524.8,597 V1054.5" stroke="#333" stroke-width="1.6"/><path d="M524,1047.5 H2215.5" stroke="#333" stroke-width="1.7"/><path d="M517,597.5 H525" stroke="#333" stroke-width="1.5"/><text x="511.5" y="601.5" text-anchor="end" font-family="Liberation Sans" font-size="19.5" fill="#666">15</text><path d="M517,687.5 H525" stroke="#333" stroke-width="1.5"/><text x="511.5" y="691.5" text-anchor="end" font-family="Liberation Sans" font-size="19.5" fill="#666">12</text><path d="M517,777.5 H525" stroke="#333" stroke-width="1.5"/><text x="511.5" y="781.5" text-anchor="end" font-family="Liberation Sans" font-size="19.5" fill="#666">9</text><path d="M517,867.5 H525" stroke="#333" stroke-width="1.5"/><text x="511.5" y="871.5" text-anchor="end" font-family="Liberation Sans" font-size="19.5" fill="#666">6</text><path d="M517,957.5 H525" stroke="#333" stroke-width="1.5"/><text x="511.5" y="961.5" text-anchor="end" font-family="Liberation Sans" font-size="19.5" fill="#666">3</text><path d="M517,1047.5 H525" stroke="#333" stroke-width="1.5"/><text x="511.5" y="1051.5" text-anchor="end" font-family="Liberation Sans" font-size="19.5" fill="#666">0</text><text x="0" y="0" transform="translate(1318,1097) rotate(-33)" font-family="Liberation Sans" font-size="23.5" fill="#a0a4aa">6401</text></svg>
<div class="a" style="left:391px;top:1200px;width:1956px;height:80px;background:#f9fafb;border:1.3px solid #e8ebf1"></div>
<div class="t" style="left:433px;top:1221px;font-size:21.3px;line-height:21.3px;color:#3a4250;font-weight:normal;-webkit-text-stroke:0.35px #3a4250">Queue</div>
<div class="t" style="left:674px;top:1220px;font-size:22.2px;line-height:22.2px;color:#3a4250;font-weight:normal;-webkit-text-stroke:0.35px #3a4250">Failed Callbacks</div>
<div class="t" style="left:1105.5px;top:1219px;font-size:22.75px;line-height:22.75px;color:#3a4250;font-weight:normal;-webkit-text-stroke:0.35px #3a4250">Successful Callbacks</div>
<div class="t" style="left:1654.5px;top:1220px;font-size:22.6px;line-height:22.6px;color:#3a4250;font-weight:normal;-webkit-text-stroke:0.35px #3a4250">Total Callbacks</div>
<div class="t" style="left:2063.5px;top:1220px;font-size:22.4px;line-height:22.4px;color:#3a4250;font-weight:normal;-webkit-text-stroke:0.35px #3a4250">Total Calls</div>
<div class="a" style="left:2374px;top:227px;width:6px;height:881px;border-radius:3px;background:#d0d0d0"></div>
</body></html>
